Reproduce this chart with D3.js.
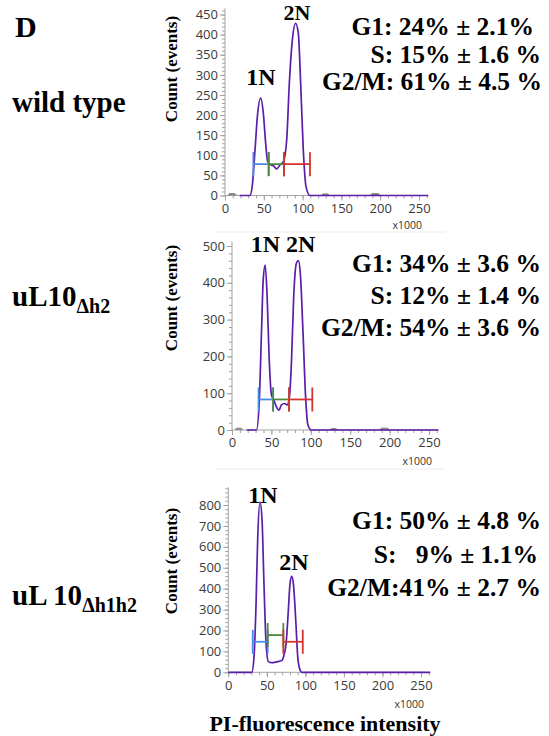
<!DOCTYPE html>
<html>
<head>
<meta charset="utf-8">
<script src="https://cdn.jsdelivr.net/npm/d3@7"></script>
<style>
  body { margin: 0; background: #fff; }
  svg text { font-family: "Liberation Serif", "Times New Roman", serif; font-weight: bold; fill: #000; }
  .tick text { font-family: "Open Sans", "DejaVu Sans", sans-serif; font-weight: normal; fill: #333; }
</style>
</head>
<body>
<div id="viz"></div>
<script>
//x axis ticks (PI intensity, x1000) shared by all three histograms
const xTicks = [0, 50, 100, 150, 200, 250];

//y ticks of each histogram
const yTicksWT = [0, 50, 100, 150, 200, 250, 300, 350, 400, 450];
const yTicksH2 = [0, 100, 200, 300, 400, 500];
const yTicksH1H2 = [0, 100, 200, 300, 400, 500, 600, 700, 800];

//histogram outlines: [intensity x1000, count]
const curveWT = [[19, 0], [32, 0], [35, 22], [38.7, 113], [41.7, 196], [46, 242], [49.4, 204], [52.4, 130],
  [55, 84], [59.3, 76], [63, 73], [66.6, 66], [70.9, 76], [75.2, 84], [79.5, 138], [82.9, 279],
  [86.8, 387], [91, 428], [94.5, 403], [97.5, 279], [100.9, 113], [104.4, 22], [109.5, 0], [262, 0]];
const curveH2 = [[18.5, 0], [31, 0], [34.5, 72], [37.5, 272], [39.6, 408], [42.1, 448], [44.6, 362], [47.1, 199],
  [50.1, 95], [53, 82], [56.4, 63], [59.7, 54], [62.7, 68], [66.9, 72], [69.8, 68], [72.4, 82],
  [75.4, 181], [78.3, 362], [81.7, 453], [84.2, 460], [86.7, 426], [90, 272], [93.4, 90], [96.3, 14], [100.5, 0], [262, 0]];
const curveH1H2 = [[0, 0], [30.4, 0], [33.4, 74], [36, 329], [38.2, 647], [41.2, 814], [43.8, 727], [46.4, 408],
  [49, 138], [52, 51], [56.3, 46], [62.8, 50], [69.3, 56], [72.3, 83], [75, 138], [77.9, 297],
  [80.1, 425], [82.3, 459], [84.4, 425], [87.5, 250], [90.1, 74], [93.1, 11], [95.3, 0], [262, 0]];

//small grey debris bumps on the baseline
const debrisWT = [[[4, 0], [6, 5], [12, 5], [15, 0]], [[124, 0], [127, 4], [132, 4], [135, 0]], [[187, 0], [190, 5], [197, 5], [200, 0]]];
const debrisH2 = [[[4, 0], [6, 5], [11, 5], [14, 0]], [[124, 0], [127, 4], [131, 4], [134, 0]], [[187, 0], [190, 5], [197, 5], [200, 0]]];

//cell cycle gates: phase, start, end, level (count)
const gatePhases = ["G1", "S", "G2/M"];
const gatesWT = [[36.5, 56, 78], [56.5, 76, 78], [76, 109.5, 78]];
const gatesH2 = [[33.7, 52.2, 83], [52.2, 72.4, 83], [72.4, 101.9, 83]];
const gatesH1H2 = [[31.7, 51.1, 146], [51.1, 71.4, 178], [71.4, 96.6, 146]];

//phase percentages
const statsWT = ["G1: 24% ± 2.1%", "S: 15% ± 1.6 %", "G2/M: 61% ± 4.5 %"];
const statsH2 = ["G1: 34% ± 3.6 %", "S: 12% ± 1.4 %", "G2/M: 54% ± 3.6 %"];
const statsH1H2 = ["G1: 50% ± 4.8 %", "S:   9% ± 1.1%", "G2/M:41% ± 2.7 %"];

//strain names (main part, subscript)
const strains = [["wild type", ""], ["uL10", "Δh2"], ["uL 10", "Δh1h2"]];

const gateColors = { "G1": "#4a8ae6", "S": "#4f8a3c", "G2/M": "#d6332f" };
const curveColor = "#5a1ea8";
const axisColor = "#a3a3a3";

const svg = d3.select("#viz")
  .append("svg")
  .attr("width", 549)
  .attr("height", 736);

//panel layout (pixel positions of each histogram)
const panels = [
  { x0: 225, x1: 419, y0: 195.5, y1: 14.5, yMax: 450, yTop: 465, yMinor: 10, yTicks: yTicksWT,
    curve: curveWT, debris: debrisWT, gates: gatesWT, stats: statsWT, statsY: [35, 63, 90], statsX: [534, 541, 542],
    strain: strains[0], strainY: 112, countY: 69,
    peaks: [["1N", 261, 85, 24], ["2N", 297, 20, 22]], x1000Y: 229, sepY: 232 },
  { x0: 232, x1: 429, y0: 430, y1: 246, yMax: 500, yTop: 512, yMinor: 20, yTicks: yTicksH2,
    curve: curveH2, debris: debrisH2, gates: gatesH2, stats: statsH2, statsY: [272, 304, 336], statsX: [541, 541, 541],
    strain: strains[1], strainY: 306, countY: 298,
    peaks: [["1N 2N", 283, 252, 24]], x1000Y: 465, sepY: 469 },
  { x0: 228.3, x1: 421, y0: 672.3, y1: 505, yMax: 800, yTop: 885, yMinor: 20, yTicks: yTicksH1H2,
    curve: curveH1H2, debris: [], gates: gatesH1H2, stats: statsH1H2, statsY: [529, 563, 596], statsX: [541, 538, 541],
    strain: strains[2], strainY: 605, countY: 561,
    peaks: [["1N", 263, 503, 24], ["2N", 294, 570, 24]], x1000Y: 708, sepY: null }
];

svg.append("text")
  .attr("x", 15)
  .attr("y", 37)
  .style("font-size", "30px")
  .text("D");

panels.forEach(p => {
  const x = d3.scaleLinear().domain([0, 250]).range([p.x0, p.x1]);
  const y = d3.scaleLinear().domain([0, p.yMax]).range([p.y0, p.y1]);
  const g = svg.append("g");

  //axes: minor ticks first, then the labelled major ticks
  const xEnd = 262;
  g.append("g")
    .attr("transform", `translate(0,${p.y0})`)
    .call(d3.axisBottom(x).tickValues(d3.range(0, xEnd, 10)).tickSize(3).tickFormat(""));
  g.append("g")
    .attr("transform", `translate(0,${p.y0})`)
    .call(d3.axisBottom(x).tickValues(xTicks).tickSize(5).tickPadding(3).tickSizeOuter(0));
  g.append("g")
    .attr("transform", `translate(${p.x0},0)`)
    .call(d3.axisLeft(y).tickValues(d3.range(0, p.yTop, p.yMinor)).tickSize(3).tickFormat(""));
  g.append("g")
    .attr("transform", `translate(${p.x0},0)`)
    .call(d3.axisLeft(y).tickValues(p.yTicks).tickSize(5).tickPadding(2).tickSizeOuter(0));
  g.selectAll(".domain").remove();
  g.selectAll(".tick line").attr("stroke", axisColor);
  g.selectAll(".tick text").style("font-size", "13px").style("fill", "#3a3a3a");

  //axis lines
  g.append("line")
    .attr("x1", p.x0).attr("x2", x(xEnd))
    .attr("y1", p.y0).attr("y2", p.y0)
    .attr("stroke", axisColor);
  g.append("line")
    .attr("x1", p.x0).attr("x2", p.x0)
    .attr("y1", p.y0).attr("y2", y(p.yTop))
    .attr("stroke", axisColor);

  const line = d3.line()
    .x(d => x(d[0]))
    .y(d => y(d[1]))
    .curve(d3.curveMonotoneX);

  p.debris.forEach(d => {
    g.append("path")
      .attr("d", line(d))
      .attr("fill", "#888")
      .attr("stroke", "#888")
      .attr("stroke-width", 1);
  });

  g.append("path")
    .attr("d", line(p.curve))
    .attr("fill", "none")
    .attr("stroke", curveColor)
    .attr("stroke-width", 1.7);

  //gates
  p.gates.forEach((gt, i) => {
    const col = gateColors[gatePhases[i]];
    const gy = y(gt[2]);
    g.append("line")
      .attr("x1", x(gt[0])).attr("x2", x(gt[1]))
      .attr("y1", gy).attr("y2", gy)
      .attr("stroke", col).attr("stroke-width", 1.8);
    [gt[0], gt[1]].forEach(v => {
      g.append("line")
        .attr("x1", x(v)).attr("x2", x(v))
        .attr("y1", gy - 12).attr("y2", gy + 12)
        .attr("stroke", col).attr("stroke-width", 1.8);
    });
  });

  //peak labels
  p.peaks.forEach(pk => {
    svg.append("text")
      .attr("x", pk[1]).attr("y", pk[2])
      .attr("text-anchor", "middle")
      .style("font-size", pk[3] + "px")
      .text(pk[0]);
  });

  //percentages
  p.stats.forEach((s, i) => {
    svg.append("text")
      .attr("x", p.statsX[i]).attr("y", p.statsY[i])
      .attr("text-anchor", "end")
      .style("font-size", "25.5px")
      .style("white-space", "pre")
      .text(s);
  });

  //strain name with subscript
  const st = svg.append("text")
    .attr("x", 12).attr("y", p.strainY)
    .style("font-size", "29px")
    .text(p.strain[0]);
  if (p.strain[1]) {
    st.append("tspan")
      .attr("dy", 7)
      .style("font-size", "20px")
      .text(p.strain[1]);
  }

  //y axis title
  svg.append("text")
    .attr("transform", `translate(177,${p.countY}) rotate(-90)`)
    .attr("text-anchor", "middle")
    .style("font-size", "17px")
    .text("Count (events)");

  svg.append("text")
    .attr("x", p.x1 + 3).attr("y", p.x1000Y)
    .attr("text-anchor", "end")
    .style("font-family", "'Open Sans', sans-serif")
    .style("font-weight", "normal")
    .style("font-size", "10.5px")
    .style("fill", "#333")
    .text("x1000");

  if (p.sepY) {
    svg.append("line")
      .attr("x1", 215).attr("x2", 445)
      .attr("y1", p.sepY).attr("y2", p.sepY)
      .attr("stroke", "#ececec");
  }
});

svg.append("text")
  .attr("x", 325).attr("y", 731)
  .attr("text-anchor", "middle")
  .style("font-size", "22px")
  .text("PI-fluorescence intensity");
</script>
</body>
</html>
